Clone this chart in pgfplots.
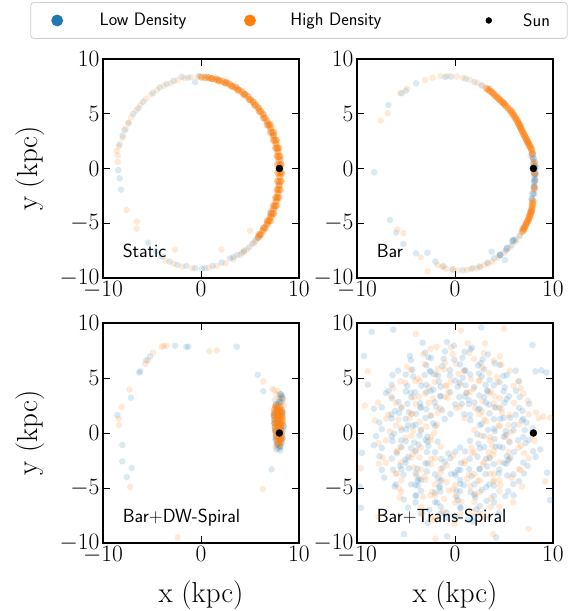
\RequirePackage{fix-cm}
\documentclass[border=0pt]{standalone}
\usepackage{pgfplots}
\pgfplotsset{compat=1.18}
\definecolor{cB}{HTML}{1F77B4}
\definecolor{cO}{HTML}{FF7F0E}
\tikzset{plab/.style={anchor=base west, inner sep=0pt, font=\sffamily\fontsize{19}{22}\selectfont}}
\pgfplotsset{
  panel/.style={
    scale only axis, width=196pt, height=219pt,
    xmin=-10, xmax=10, ymin=-10, ymax=10,
    xtick={-10,0,10}, ytick={-10,-5,0,5,10},
    tick align=inside, major tick length=7pt,
    tick style={line width=0.9pt, black},
    axis line style={line width=1.1pt},
    tick label style={font=\fontsize{23.5}{26}\selectfont},
    every axis y label/.style={at={(axis description cs:-0.372,0.5)}, anchor=center, rotate=90, font=\fontsize{29}{32}\selectfont},
    every axis x label/.style={at={(axis description cs:0.5,-0.236)}, anchor=center, font=\fontsize{29}{32}\selectfont},
  },
  ptB/.style={only marks, mark=*, mark size=3.3pt, mark options={fill=cB, draw opacity=0, fill opacity=0.16}, forget plot},
  ptO/.style={only marks, mark=*, mark size=3.3pt, mark options={fill=cO, draw opacity=0, fill opacity=0.16}, forget plot},
  ptB4/.style={only marks, mark=*, mark size=3.3pt, mark options={fill=cB, draw opacity=0, fill opacity=0.17}, forget plot},
  ptO4/.style={only marks, mark=*, mark size=3.3pt, mark options={fill=cO, draw opacity=0, fill opacity=0.16}, forget plot},
  ptOd/.style={only marks, mark=*, mark size=3.7pt, mark options={fill=cO, draw opacity=0, fill opacity=0.45}, forget plot},
  ptBd/.style={only marks, mark=*, mark size=3.6pt, mark options={fill=cB, draw opacity=0, fill opacity=0.3}, forget plot},
  sun/.style={only marks, mark=*, mark size=3.5pt, mark options={fill=black, draw=black}, forget plot},
  legA/.style={legend image code/.code={\path (0pt,-17.5pt) (68pt,17.5pt); \draw[##1] plot coordinates {(26pt,0pt)};}},
  legB/.style={legend image code/.code={\path (0pt,-17.5pt) (85pt,17.5pt); \draw[##1] plot coordinates {(45pt,0pt)};}},
  legC/.style={legend image code/.code={\path (0pt,-17.5pt) (102pt,17.5pt); \draw[##1] plot coordinates {(68pt,0pt)};}},
}
\begin{document}
\begin{tikzpicture}
\path[use as bounding box] (0,0) rectangle (577pt,611pt);
% ---------------- Panel 1: Static
\begin{axis}[panel, at={(103pt,333pt)}, anchor=south west, ylabel={y (kpc)},
  legend columns=3, legend cell align=left,
  legend style={at={(axis description cs:1.0,1.176)}, anchor=center, draw=black!18, line width=0.8pt,
    rounded corners=3pt, inner sep=0pt, column sep=0pt, fill=white,
    nodes={inner sep=0pt}, font=\sffamily\fontsize{18}{20}\selectfont}]
\addlegendimage{legA, only marks, mark=*, mark size=5.5pt, cB}
\addlegendentry{\makebox[105pt][l]{Low Density}}
\addlegendimage{legB, only marks, mark=*, mark size=5.5pt, cO}
\addlegendentry{\makebox[130pt][l]{High Density}}
\addlegendimage{legC, only marks, mark=*, mark size=2.8pt, black}
\addlegendentry{\makebox[44pt][l]{Sun}}
\addplot[ptB] coordinates {(-1.97,8.38) (-1.3,8.3) (-0.6,7.9) (-2.8,8.0) (-3.5,7.7) (-4.2,7.4) (-4.9,6.9) (-5.9,6.1) (-6.4,5.5) (-6.9,5.0) (-7.4,4.2) (-7.8,3.5) (-8.0,3.0) (-8.3,2.2) (-8.44,-0.14) (-8.3,-0.9) (-8.16,-1.93) (-5.38,-6.77) (-4.6,-7.6) (-4.01,-8.05) (-3.2,-8.5) (-2.4,-8.8) (-1.5,-8.9) (-0.6,-9.1) (0.4,-9.1) (0.1,-9.15) (1.2,-8.9) (2.1,-8.6) (2.96,-8.2) (3.7,-7.9) (4.4,-7.5) (5.34,-6.83) (4.9,-7.2) (5.8,-6.3) (6.3,-5.6) (6.8,-5.0) (7.2,-4.3) (7.5,-3.5) (7.8,-2.6) (8.0,-1.5) (8.2,0.8) (8.1,0.3) (7.8,1.9) (7.4,3.0) (6.9,4.1) (6.4,4.9) (5.9,5.5) (5.3,6.1) (4.5,6.8) (3.6,7.4) (2.7,7.9) (1.6,8.2) (0.6,8.4) (-0.2,8.45) (8.3,-0.5) (7.1,-3.9) (5.6,-6.5) (6.0,-6.1) (4.2,-7.7) (3.3,-8.1)};
\addplot[ptO] coordinates {(-1.0,8.35) (-1.7,8.25) (-2.4,8.05) (-3.1,7.8) (-3.8,7.55) (-4.5,7.15) (-5.1,6.75) (-5.6,6.35) (-6.2,5.8) (-6.6,5.3) (-7.1,4.7) (-7.4,4.1) (-7.7,3.6) (-8.0,2.8) (-8.4,2.0) (-8.6,1.6) (-8.5,1.2) (-8.5,0.6) (-7.58,-3.79) (-6.56,-4.86) (-6.56,-5.5) (-2.65,-7.4) (-3.6,-8.4) (-2.8,-8.7) (-1.9,-8.95) (-0.9,-9.1) (0.8,-9.05) (1.6,-8.9) (2.1,-7.4) (2.5,-8.65) (3.3,-8.3) (4.0,-7.9) (4.7,-7.4) (5.0,-5.7) (5.5,-6.7) (6.0,-6.1) (6.6,-5.3) (7.0,-4.6) (-0.3,8.4) (5.2,-6.9) (4.4,-7.6)};
\addplot[ptOd] coordinates {(0.06,8.34) (0.43,8.30) (0.79,8.29) (1.15,8.20) (1.51,8.16) (1.86,8.03) (2.21,7.96) (2.56,7.81) (2.90,7.70) (3.23,7.51) (3.56,7.38) (3.88,7.16) (4.19,7.00) (4.49,6.75) (4.78,6.56) (5.07,6.28) (5.34,6.07) (5.60,5.77) (5.85,5.53) (6.10,5.21) (6.32,4.95) (6.54,4.60) (6.74,4.32) (6.93,3.96) (7.10,3.66) (7.27,3.28) (7.41,2.97) (7.55,2.57) (7.66,2.25) (7.77,1.85) (7.85,1.52) (7.92,1.10) (7.97,0.76) (8.02,0.34) (8.04,0.00) (8.05,-0.42) (8.04,-0.76) (8.02,-1.18) (7.97,-1.52) (7.92,-1.94) (7.85,-2.28) (7.77,-2.69) (7.66,-3.01) (7.55,-3.41) (7.41,-3.73) (7.27,-4.12) (7.10,-4.42) (6.93,-4.80) (6.74,-5.08) (6.54,-5.44) (6.32,-5.71) (6.10,-6.04) (5.85,-6.29)
(7.85,-0.4) (7.82,0.36) (7.77,1.12) (7.62,1.87) (7.40,2.59) (7.12,3.30) (6.78,3.98) (6.39,4.62) (5.95,5.23) (5.47,5.79) (4.94,6.30) (4.37,6.77) (3.76,7.18) (3.12,7.53) (2.46,7.83) (1.77,8.05) (1.07,8.22) (7.82,-1.16) (7.77,-1.92) (7.62,-2.67) (7.40,-3.39) (7.12,-4.10) (6.78,-4.78) (6.39,-5.42) (5.95,-6.02)
(8.2,-0.4) (8.17,-1.16) (8.07,-1.92) (7.92,-2.67) (7.70,-3.39) (7.42,-4.10) (7.08,-4.78) (8.17,0.36) (8.07,1.12) (7.92,1.87) (7.70,2.59) (7.42,3.30) (7.08,3.98)};
\addplot[sun] coordinates {(8,0)};
\node[plab] at (axis description cs:0.1,0.095) {Static};
\end{axis}
% ---------------- Panel 2: Bar
\begin{axis}[panel, at={(357pt,333pt)}, anchor=south west]
\addplot[ptB] coordinates {(3.6,7.3) (5.0,6.0) (8.2,0.5) (8.25,-0.5) (8.2,-1.0) (8.1,-1.6) (7.9,1.0) (8.3,0.1) (8.1,-2.3) (7.7,-3.9) (-1.0,8.35) (-0.4,8.4) (1.1,8.2) (2.0,7.9) (2.7,7.6) (-3.98,7.78) (-5.44,6.87) (-5.0,7.1) (-6.8,5.8) (-8.23,-0.35) (-6.63,-4.7) (-6.0,-5.86) (-5.27,-6.9) (-3.98,-7.75) (-2.82,-7.69) (-2.0,-8.5) (-1.2,-8.9) (-0.2,-9.2) (0.8,-9.3) (1.8,-9.1) (2.5,-8.95) (3.3,-8.6) (4.0,-8.2) (4.6,-7.9) (5.2,-7.5) (5.8,-7.0) (6.2,-6.5) (6.6,-6.1) (6.0,-6.5) (5.1,-8.36) (3.74,-7.6) (6.7,4.0) (7.4,2.4) (8.15,0.0) (8.1,-0.8) (8.0,0.6) (8.05,-1.3) (6.9,-5.5)};
\addplot[ptBd] coordinates {(8.1,0.2) (8.15,-0.5) (8.12,-1.1) (8.05,-1.7) (8.0,0.9) (7.95,-2.3) (7.85,-2.8) (7.9,1.4) (5.9,-6.6) (5.3,-7.3) (4.6,-7.9)};
\addplot[ptO] coordinates {(-1.5,8.45) (-0.8,8.45) (0.16,8.4) (0.8,8.3) (1.5,8.1) (2.3,7.8) (2.8,7.55) (-3.06,8.08) (-2.3,8.3) (-5.6,6.9) (-4.9,7.3) (-7.59,4.37) (-6.87,5.04) (-5.88,-5.56) (-5.27,-5.92) (-3.5,-8.1) (-2.8,-9.4) (-1.8,-8.8) (-0.9,-9.15) (0.3,-9.3) (1.2,-9.25) (2.2,-9.1) (3.0,-8.8) (3.8,-8.5) (4.4,-8.1) (5.0,-7.7) (5.6,-7.2) (6.2,-6.7) (6.6,-6.2) (8.2,-1.2) (8.15,0.6) (8.05,-2.0) (8.2,-0.3) (7.7,1.2) (1.6,-9.2) (2.6,-9.0) (3.4,-8.7) (-0.3,-9.25) (-1.3,-9.0)};
\addplot[ptOd] coordinates {(3.23,7.32) (3.6,7.05) (3.95,6.8) (4.3,6.5) (4.59,6.26) (4.9,6.0) (5.2,5.72) (5.61,5.34) (5.85,5.05) (6.08,4.74) (6.3,4.43) (6.47,4.13) (6.64,3.82) (6.8,3.52) (6.97,3.21) (7.15,2.9) (7.32,2.6) (7.49,2.3) (7.66,2.0) (7.83,1.69) (7.9,1.3) (8.03,0.42) (8.1,-0.45) (8.12,-1.8) (7.95,-2.98) (7.9,-3.38) (7.83,-3.79) (7.72,-4.1) (7.6,-4.4) (7.48,-4.7) (7.3,-5.0) (7.14,-5.3) (6.97,-5.62)
(3.4,7.2) (3.8,6.95) (4.1,6.65) (4.45,6.38) (4.75,6.12) (5.05,5.86) (5.4,5.52) (5.73,5.2) (5.97,4.9) (6.2,4.58) (6.4,4.28) (6.56,3.98) (6.72,3.67) (6.89,3.36) (7.06,3.05) (7.24,2.75) (7.4,2.45) (7.58,2.15) (7.75,1.85) (7.93,-3.2) (7.86,-3.6) (7.78,-3.95) (7.66,-4.25) (7.54,-4.55) (7.4,-4.85) (7.22,-5.15) (7.06,-5.45) (6.88,-5.75)};
\addplot[sun] coordinates {(8,0)};
\node[plab] at (axis description cs:0.1,0.095) {Bar};
\end{axis}
% ---------------- Panel 3: Bar+DW-Spiral
\begin{axis}[panel, height=220pt, at={(103pt,68pt)}, anchor=south west, ylabel={y (kpc)}, xlabel={x (kpc)}]
\addplot[ptB] coordinates {(5.79,5.29) (3.64,7.84) (-1.3,7.84) (-1.5,7.84) (-2.65,7.93) (-5.2,6.96) (-6.2,5.6) (-6.3,5.5) (-7.14,3.2) (-8.54,1.62) (-8.03,-1.08) (-8.03,-2.58) (-7.07,-3.18) (-7.58,-4.0) (7.2,-3.3) (6.36,3.8) (7.7,-1.5) (8.1,-1.6) (-5.6,6.6) (7.5,1.8) (7.45,1.2) (7.5,0.5) (7.6,-0.3) (7.75,-1.1) (7.9,-1.4) (8.1,-1.3) (8.3,-0.9) (8.4,0.3) (8.3,1.5) (7.6,2.3) (7.9,2.6) (8.2,2.8) (8.0,3.1) (8.3,3.4)};
\addplot[ptBd] coordinates {(7.45,1.6) (7.5,0.9) (7.6,0.2) (7.65,-0.6) (7.8,-1.0) (8.05,-1.15) (8.3,-0.5) (8.4,0.6) (8.3,1.9) (7.65,2.6) (8.0,2.8) (8.25,3.2) (8.1,3.5)};
\addplot[ptO] coordinates {(6.36,4.7) (1.6,7.5) (0.85,7.44) (-3.5,7.93) (-4.0,7.84) (-3.8,7.9) (-4.9,7.3) (-5.7,6.28) (-7.3,3.96) (-8.1,2.37) (-8.4,1.3) (-8.37,0.72) (-7.24,-4.9) (-2.38,-9.5) (6.3,-5.1) (-5.4,6.6) (7.5,3.9) (7.3,4.0) (7.7,3.5) (8.1,3.3) (8.3,2.9) (7.9,3.8) (8.4,3.1) (7.6,-1.2) (8.0,-1.3) (8.45,2.5) (7.55,3.0)};
\addplot[ptOd] coordinates {(7.62,2.4) (7.85,2.4) (8.1,2.35) (7.5,2.1) (7.76,2.1) (7.98,2.1) (8.2,2.05) (7.5,1.8) (7.79,1.8) (8.01,1.8) (8.25,1.75) (7.52,1.5) (7.81,1.5) (8.03,1.5) (8.28,1.45) (7.55,1.2) (7.84,1.2) (8.06,1.2) (8.3,1.15) (7.58,0.9) (7.87,0.9) (8.09,0.9) (8.3,0.85) (7.6,0.6) (7.90,0.6) (8.12,0.6) (7.62,0.3) (7.92,0.3) (8.14,0.3) (7.68,0.0) (7.95,0.0) (8.2,0.0) (7.72,-0.3) (7.98,-0.3) (8.22,-0.3) (7.8,-0.6) (8.0,-0.6) (8.18,-0.6) (7.9,-0.9) (8.08,-0.9)};
\addplot[sun] coordinates {(8,0)};
\node[plab] at (axis description cs:0.1,0.095) {Bar+DW-Spiral};
\end{axis}
% ---------------- Panel 4: Bar+Trans-Spiral
\begin{axis}[panel, height=220pt, at={(357pt,68pt)}, anchor=south west, xlabel={x (kpc)}]
\addplot[ptB4] coordinates {
(-2.77,-8.17) (-0.88,-7.73) (1.34,-7.86) (1.78,-8.05)
(-4.77,-6.79) (-2.61,-6.98) (-0.85,-7.24) (0.57,-6.84) (2.19,-6.92) (4.44,-7.29)
(-5.22,-6.05) (-3.96,-5.67) (-1.82,-6.34) (0.29,-6.12) (2.07,-5.84) (3.23,-6.17) (5.12,-5.73)
(-6.16,-4.86) (-4.46,-4.67) (-3.77,-4.79) (-1.61,-4.98) (0.15,-5.24) (2.73,-5.17) (3.19,-4.92) (5.44,-5.29)
(-7.22,-4.05) (-5.27,-3.79) (-3.82,-4.34) (-1.71,-4.12) (0.07,-3.84) (1.69,-3.92) (3.12,-3.73) (5.34,-3.86) (7.04,-3.67)
(-6.32,-3.34) (-5.61,-2.98) (-3.85,-3.24) (-1.27,-3.17) (0.62,-2.73) (1.44,-3.29) (3.28,-3.05) (5.23,-2.79) (7.39,-2.98)
(-7.71,-2.12) (-5.93,-1.84) (-4.77,-2.17) (-2.88,-1.73) (-0.66,-1.86) (1.04,-1.67) (3.18,-2.34) (5.29,-2.12) (5.65,-2.24) (8.23,-2.17)
(-8.27,-1.12) (-6.38,-0.73) (-4.16,-0.86) (-3.72,-1.05) (-1.77,-0.79) (2.39,-0.98) (4.15,-1.24) (5.57,-0.84) (7.19,-0.92)
(-8.06,-0.29) (-6.22,-0.05) (-4.96,0.33) (-2.82,-0.34) (2.29,-0.12) (4.07,0.16) (5.23,-0.17) (7.12,0.27)
(-7.72,0.95) (-6.46,1.33) (-4.32,0.66) (-2.21,0.88) (1.57,1.16) (2.73,0.83) (4.62,1.27) (6.84,1.14) (7.28,0.95)
(-8.27,2.21) (-6.11,2.02) (-4.71,1.88) (-2.93,2.16) (-1.31,2.08) (0.94,1.71) (2.34,2.14) (4.04,2.33) (6.18,1.66) (6.89,2.02)
(-6.43,3.16) (-5.77,2.83) (-3.56,2.71) (-1.46,3.33) (0.68,2.66) (1.39,3.02) (3.15,2.76) (5.27,3.08) (6.62,3.27)
(-6.78,3.83) (-4.88,4.27) (-4.06,3.71) (-2.22,3.95) (0.27,4.21) (1.18,3.66) (3.29,3.88) (5.07,4.16) (6.23,3.83)
(-6.38,5.27) (-4.27,5.14) (-2.15,5.33) (-1.72,5.21) (0.81,5.02) (2.73,5.16) (3.54,4.83) (5.29,5.27)
(-5.81,5.66) (-4.35,5.76) (-2.93,6.16) (-1.31,6.08) (0.94,5.71) (2.34,6.14) (4.04,6.33) (6.18,5.66)
(-4.61,7.02) (-2.72,6.88) (-1.15,6.76) (0.77,6.83) (2.84,6.71) (3.35,7.14)
(-3.31,8.21) (-0.82,8.27) (-0.11,7.95) (1.73,7.76)
(-2.06,-5.42) (0.19,-5.79) (1.59,-5.36)
(-3.71,-4.17) (-1.57,-4.84) (0.54,-4.62) (0.90,-4.74) (3.48,-4.67)
(-4.69,-3.21) (-2.86,-3.48) (-0.40,-3.74) (0.32,-3.34) (2.50,-3.27) (4.48,-3.66)
(-5.06,-2.42) (-2.81,-2.79) (-1.41,-2.36) (2.29,-2.17) (3.95,-2.84) (5.43,-2.48)
(-4.48,-1.38) (-2.71,-1.17) (2.98,-1.29) (4.87,-1.34)
(-5.52,-0.67) (-3.63,-0.23) (-2.81,-0.79) (4.03,-0.55) (6.43,-0.67)
(-4.81,0.71) (-3.48,0.25) (3.37,0.29) (5.18,0.16) (6.02,0.74)
(-5.71,1.82) (-3.98,1.74) (-2.48,1.56) (3.97,1.26) (5.62,1.38)
(-4.86,2.66) (-3.54,2.29) (-1.92,2.38) (1.41,2.63) (3.47,2.58) (5.04,2.75)
(-4.52,3.67) (-2.94,3.74) (-1.52,3.36) (0.43,3.27) (2.48,3.41) (3.32,3.78)
(-2.92,4.38) (-1.63,4.66) (0.46,4.57) (1.08,4.34) (3.12,4.38)
(-2.58,5.64) (-0.52,5.71) (1.08,5.67) (2.44,5.41)
(-3.05,7.31) (-1.02,7.42) (0.98,7.38) (1.59,7.61)
(-4.51,6.62) (-2.43,6.81) (-0.07,6.66) (0.52,6.24) (2.61,6.35) (4.56,6.19)
(-5.04,5.31) (-3.11,5.26) (-2.47,5.58) (-0.52,5.23) (1.53,5.32) (2.97,5.77) (4.92,5.18)
(-6.47,4.38) (-3.44,4.29) (-1.46,4.22) (-0.01,4.77) (1.96,4.18) (3.96,4.33) (4.55,4.62) (6.53,4.69)
(-7.04,3.62) (-5.02,3.77) (-4.46,3.24) (-2.47,3.81) (-0.48,3.69) (0.97,3.33) (2.98,3.26) (4.96,3.79) (5.52,3.35)
(-7.48,2.33) (-5.47,2.28) (-3.48,2.37) (-2.06,2.79) (0.02,2.61) (1.98,2.77) (2.54,2.22) (4.53,2.31) (6.54,2.29) (7.57,2.66)
(-6.48,1.68) (-5.04,1.29) (-3.02,1.36) (-1.05,1.27) (-0.46,1.73) (1.53,1.66) (3.52,1.79) (4.96,1.38) (6.97,1.29)
(-7.46,0.36) (-5.48,0.27) (-4.04,0.74) (-2.03,0.62) (2.52,0.71) (3.98,0.39) (5.97,0.24) (7.96,0.42)
(-6.47,-0.31) (-5.03,-0.74) (-3.02,-0.63) (1.53,-0.71) (2.97,-0.29) (4.97,-0.33) (6.96,-0.36) (7.53,-0.64)
(-7.47,-1.36) (-5.46,-1.29) (-4.03,-1.67) (-2.04,-1.74) (0.03,-1.69) (0.52,-1.31) (2.53,-1.38) (4.54,-1.24) (6.03,-1.71) (7.97,-1.66)
(-6.46,-2.32) (-5.03,-2.68) (-3.02,-2.74) (-1.04,-2.63) (-0.48,-2.29) (1.52,-2.33) (3.53,-2.24) (4.98,-2.72) (6.96,-2.69)
(-7.47,-3.34) (-5.48,-3.28) (-4.02,-3.66) (-2.03,-3.77) (0.01,-3.62) (0.54,-3.36) (2.52,-3.27) (4.53,-3.32) (5.96,-3.76)
(-6.03,-4.67) (-4.04,-4.74) (-3.46,-4.28) (-1.47,-4.36) (0.53,-4.27) (1.98,-4.66) (3.97,-4.78) (5.96,-4.64) (6.53,-4.37)
(-4.03,-5.71) (-3.47,-5.26) (-1.48,-5.31) (0.52,-5.29) (1.97,-5.63) (3.96,-5.72) (5.97,-5.66)
(-4.03,-6.32) (-2.04,-6.28) (-1.46,-6.69) (0.53,-6.74) (2.52,-6.66) (3.98,-6.31)
(-3.46,-7.33) (-1.47,-7.29) (0.03,-7.71) (1.98,-7.64)
(-9.5,-1.8) (-9.7,-4.9) (-8.5,9.2) (2.7,9.6) (8.2,5.6) (8.8,5.7) (9.3,5.5) (8.7,-1.5) (9.4,-3.6) (4.2,-9.5) (-5.2,-9.2) (-9.6,-6.8) (7.9,8.0) (-9.3,7.0) (-6.3,9.4) (9.7,-6.1) (-0.8,-9.4) (-8.9,4.4)};
\addplot[ptO4] coordinates {
(-2.31,-7.92) (-0.06,-8.29) (3.04,-7.67)
(-3.32,-7.34) (-1.21,-7.12) (1.73,-7.17) (3.62,-6.73)
(-5.66,-5.86) (-3.27,-5.79) (-1.11,-5.98) (0.65,-6.24) (3.69,-5.92) (5.94,-6.29)
(-5.72,-5.05) (-2.32,-5.34) (-0.21,-5.12) (1.57,-4.84) (4.62,-4.73) (6.84,-4.86)
(-5.96,-3.67) (-3.11,-3.98) (-1.35,-4.24) (1.23,-4.17) (3.94,-4.29) (5.78,-4.05)
(-7.77,-2.79) (-4.21,-3.12) (-2.43,-2.84) (-0.81,-2.92) (2.84,-2.86) (4.54,-2.67) (6.68,-3.34)
(-7.35,-2.24) (-4.31,-1.92) (-2.06,-2.29) (-0.22,-2.05) (1.73,-1.79) (3.89,-1.98) (7.07,-1.84)
(-7.81,-0.92) (-5.56,-1.29) (-2.46,-0.67) (1.68,-1.34) (3.79,-1.12) (6.73,-1.17) (8.12,-0.71)
(-6.66,0.14) (-4.27,0.21) (-2.11,0.02) (2.65,-0.24) (5.69,0.08) (7.94,-0.29)
(-8.16,1.14) (-5.77,1.21) (-3.61,1.02) (-1.85,0.76) (3.19,1.08) (5.44,0.71) (8.54,1.33)
(-6.82,1.66) (-4.35,1.76) (-1.77,1.83) (0.12,2.27) (2.78,1.95) (4.73,2.21) (8.29,1.88)
(-7.85,2.76) (-4.21,3.27) (-2.22,3.14) (-0.77,3.21) (2.79,2.88) (4.57,3.16) (7.44,2.95)
(-6.31,4.08) (-2.66,4.14) (-0.96,4.33) (1.89,4.02) (3.65,3.76) (6.69,4.08)
(-5.56,4.71) (-3.79,4.95) (-0.44,4.66) (1.62,4.88) (4.27,5.08) (6.46,4.71)
(-4.89,6.02) (-1.77,5.83) (0.12,6.27) (2.78,5.95) (4.73,6.21)
(-3.27,7.14) (-0.23,7.16) (1.44,7.27) (4.56,6.95)
(-1.89,7.83) (1.29,8.14) (3.07,8.16)
(-2.52,-5.67) (-0.63,-5.23) (2.03,-5.55)
(-3.02,-4.29) (-0.86,-4.48) (2.32,-4.34) (3.94,-4.42)
(-3.93,-3.84) (-1.46,-3.62) (1.42,-3.79) (3.59,-3.73)
(-5.52,-2.67) (-3.63,-2.23) (1.02,-2.55) (3.52,-2.29)
(-5.84,-1.62) (-3.97,-1.55) (3.44,-1.74) (5.48,-1.73)
(-5.06,-0.42) (3.59,-0.36) (5.09,-0.34)
(-5.46,0.48) (-2.92,0.58) (4.54,0.63)
(-4.63,1.33) (2.52,1.71) (4.79,1.83)
(-5.48,2.37) (-2.69,2.74) (2.06,2.27) (4.17,2.31)
(-3.66,3.28) (-0.68,3.71) (1.17,3.62) (4.06,3.32)
(-3.54,4.73) (-0.87,4.29) (2.41,4.72) (4.33,4.61)
(-1.93,5.33) (0.37,5.38)
(-2.49,7.66) (-0.41,7.79) (2.94,7.27)
(-3.08,6.27) (-1.02,6.39) (1.96,6.73) (3.98,6.58)
(-4.49,5.72) (-1.08,5.79) (0.94,5.61) (3.51,5.44) (5.58,5.66)
(-5.07,4.56) (-4.03,4.71) (-2.06,4.65) (0.57,4.41) (2.52,4.79) (5.98,4.27)
(-6.49,3.31) (-3.03,3.55) (-1.06,3.28) (1.54,3.72) (3.56,3.61) (6.97,3.58)
(-6.04,2.71) (-4.02,2.64) (-1.51,2.24) (0.53,2.36) (3.97,2.68) (6.02,2.74)
(-7.03,1.31) (-4.47,1.74) (-2.49,1.61) (0.97,1.34) (2.98,1.22) (5.54,1.63) (7.52,1.71)
(-6.03,0.68) (-3.47,0.31) (1.97,0.28) (4.51,0.66) (6.53,0.77)
(-7.04,-0.68) (-4.48,-0.27) (-2.46,-0.38) (3.54,-0.66) (5.52,-0.72)
(-6.02,-1.72) (-3.48,-1.33) (-1.47,-1.26) (1.98,-1.77) (3.96,-1.62) (6.48,-1.34)
(-7.04,-2.71) (-4.49,-2.27) (-2.47,-2.36) (0.96,-2.78) (2.97,-2.66) (5.51,-2.37) (7.52,-2.31)
(-6.04,-3.71) (-3.47,-3.31) (-1.46,-3.24) (1.97,-3.73) (3.98,-3.68) (6.52,-3.29)
(-5.48,-4.31) (-2.02,-4.63) (0.02,-4.71) (2.54,-4.33) (4.52,-4.29)
(-5.46,-5.34) (-2.02,-5.68) (0.04,-5.74) (2.53,-5.37) (4.52,-5.28)
(-3.47,-6.71) (0.02,-6.33) (1.97,-6.27) (4.54,-6.68)
(-2.03,-7.68) (0.52,-7.36) (2.53,-7.28)
(-9.2,2.5) (-8.9,5.6) (5.0,9.5) (9.0,1.5) (9.7,1.4) (7.5,-8.7) (-2.0,-9.6) (-7.8,-7.6) (0.6,9.3) (-9.6,-3.2) (9.2,-4.4) (-4.0,9.0) (3.9,-9.2)};
\addplot[sun] coordinates {(8,0)};
\node[plab] at (axis description cs:0.1,0.095) {Bar+Trans-Spiral};
\end{axis}
\end{tikzpicture}
\end{document}
